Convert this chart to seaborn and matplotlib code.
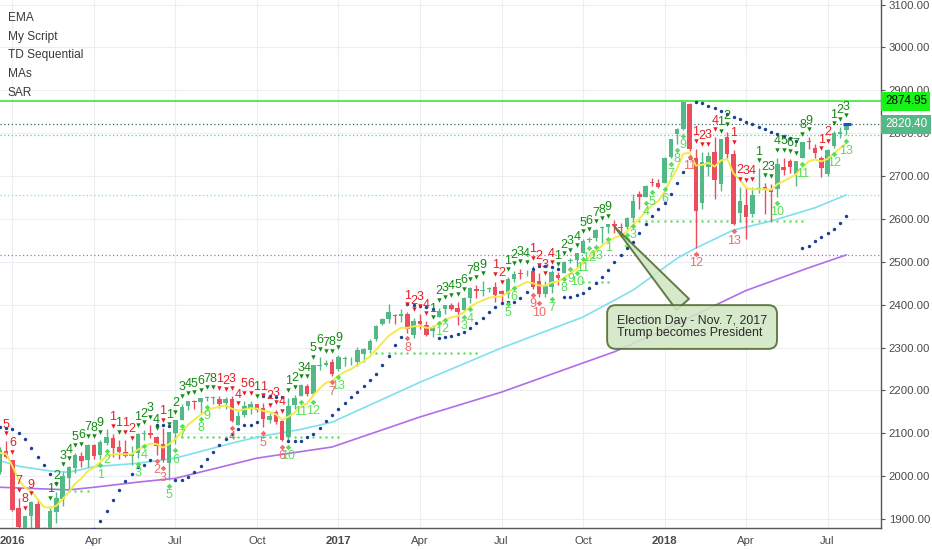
import matplotlib
matplotlib.use("Agg")
import matplotlib.pyplot as plt
import matplotlib.dates as mdates
import matplotlib.transforms as mtrans
import numpy as np
import pandas as pd
import seaborn as sns

# Weekly S&P 500 candles, one per week, first week starting Monday 2015-10-26
first_week = "2015-10-26"
opens = [
    2072, 2080, 2096, 2022, 2089, 2091, 2090, 2013, 2010, 2058,
    2038, 1926, 1878, 1906, 1936, 1873, 1871, 1917, 1947, 1996, 2019, 2047, 2037,
    2073, 2050, 2078, 2089, 2067, 2057, 2046, 2053, 2099, 2100, 2092, 2075, 2030,
    2101, 2131, 2163, 2175, 2174, 2183, 2183, 2181, 2170, 2181, 2120, 2143, 2158,
    2168, 2160, 2132, 2149, 2129, 2092, 2165, 2186, 2211, 2192, 2258, 2260, 2266,
    2251, 2273, 2270, 2267, 2286, 2294, 2321, 2354, 2366, 2375, 2374, 2379, 2329,
    2363, 2352, 2338, 2372, 2390, 2399, 2393, 2387, 2415, 2437, 2432, 2437, 2442,
    2431, 2424, 2459, 2473, 2475, 2478, 2454, 2425, 2440, 2470, 2474, 2502, 2503,
    2521, 2551, 2555, 2578, 2582, 2588, 2580, 2582, 2603, 2657, 2652, 2685, 2684,
    2684, 2745, 2799, 2809, 2867, 2742, 2636, 2722, 2757, 2682, 2791, 2752, 2613,
    2633, 2611, 2670, 2675, 2669, 2670, 2722, 2735, 2705, 2741, 2780, 2766, 2743,
    2705, 2770, 2798, 2807,
]
highs = [
    2094, 2116, 2097, 2097, 2095, 2104, 2090, 2076, 2067, 2081,
    2038, 1950, 1908, 1941, 1947, 1881, 1930, 1962, 2009, 2023, 2053, 2056, 2075,
    2074, 2084, 2111, 2099, 2084, 2084, 2071, 2100, 2107, 2120, 2093, 2113, 2103,
    2131, 2169, 2176, 2177, 2183, 2188, 2188, 2187, 2184, 2187, 2151, 2175, 2175,
    2169, 2170, 2147, 2154, 2134, 2182, 2189, 2214, 2214, 2260, 2278, 2272, 2274,
    2283, 2280, 2277, 2301, 2300, 2320, 2352, 2368, 2401, 2379, 2390, 2382, 2370,
    2378, 2361, 2352, 2392, 2400, 2404, 2406, 2418, 2440, 2446, 2454, 2442, 2453,
    2435, 2464, 2478, 2484, 2480, 2490, 2474, 2454, 2480, 2475, 2501, 2509, 2520,
    2552, 2557, 2576, 2583, 2588, 2598, 2590, 2605, 2657, 2665, 2680, 2695, 2693,
    2744, 2787, 2811, 2873, 2871, 2763, 2755, 2756, 2790, 2787, 2802, 2761, 2675,
    2672, 2674, 2718, 2683, 2682, 2742, 2742, 2739, 2736, 2780, 2790, 2774, 2746,
    2764, 2804, 2814, 2823,
]
lows = [
    2069, 2076, 2022, 2019, 2070, 2042, 2008, 1993, 2005, 2043,
    1918, 1857, 1812, 1872, 1872, 1810, 1871, 1891, 1931, 1969, 2007, 2022, 2022,
    2039, 2039, 2073, 2045, 2039, 2044, 2025, 2043, 2085, 2090, 2050, 2032, 1992,
    2074, 2131, 2154, 2157, 2148, 2175, 2169, 2160, 2157, 2127, 2119, 2139, 2145,
    2149, 2114, 2124, 2122, 2083, 2083, 2156, 2186, 2187, 2188, 2248, 2258, 2233,
    2245, 2258, 2259, 2257, 2267, 2288, 2316, 2352, 2358, 2355, 2359, 2335, 2322,
    2344, 2328, 2324, 2372, 2378, 2387, 2353, 2385, 2403, 2415, 2419, 2430, 2405,
    2407, 2416, 2453, 2459, 2467, 2437, 2417, 2418, 2428, 2446, 2474, 2496, 2488,
    2521, 2545, 2548, 2544, 2567, 2566, 2557, 2576, 2597, 2624, 2651, 2676, 2673,
    2683, 2741, 2775, 2808, 2759, 2533, 2622, 2700, 2647, 2665, 2742, 2585, 2593,
    2553, 2605, 2660, 2612, 2594, 2652, 2703, 2707, 2676, 2741, 2764, 2743, 2698,
    2699, 2766, 2788, 2795,
]
closes = [
    2079.36, 2099.20, 2023.04, 2089.17, 2090.11, 2091.69, 2012.37, 2005.55, 2060.99, 2043.94,
    1922.03, 1880.33, 1906.90, 1940.24, 1880.05, 1864.78, 1917.78, 1948.05, 1999.99, 2022.19,
    2049.58, 2035.94, 2072.78,
    2047.60, 2080.73, 2091.58, 2065.30, 2057.14, 2046.61, 2052.32, 2099.06, 2099.13, 2096.07,
    2071.22, 2037.41, 2102.95,
    2129.90, 2161.74, 2175.03, 2173.60, 2182.87, 2184.05, 2183.87, 2169.04, 2179.98, 2127.81,
    2139.16, 2164.69, 2168.27,
    2153.74, 2132.98, 2141.16, 2126.41, 2085.18, 2164.45, 2181.90, 2213.35, 2191.95, 2259.53,
    2258.07, 2263.79, 2238.83,
    2276.98, 2274.64, 2271.31, 2294.69, 2297.42, 2316.10, 2351.16, 2367.34, 2383.12, 2372.60,
    2378.25, 2343.98, 2362.72,
    2355.54, 2328.95, 2348.69, 2384.20, 2399.29, 2390.90, 2381.73, 2415.82, 2439.07, 2431.77,
    2433.15, 2438.30, 2423.41,
    2425.18, 2459.27, 2472.54, 2472.10, 2476.83, 2441.32, 2425.55, 2443.05, 2476.55, 2461.43,
    2500.23, 2502.22, 2519.36,
    2549.33, 2553.17, 2575.21, 2581.07, 2587.84, 2582.30, 2578.85, 2602.42, 2642.22, 2651.50,
    2675.81, 2683.34, 2673.61,
    2743.15, 2786.24, 2810.30, 2872.87, 2762.13, 2619.55, 2732.22, 2747.30, 2691.25, 2786.57,
    2752.01, 2588.26, 2640.87,
    2604.47, 2656.30, 2670.14, 2669.91, 2663.42, 2727.72, 2712.97, 2721.33, 2734.62, 2779.03,
    2779.66, 2754.88, 2718.37,
    2759.82, 2801.31, 2801.83, 2820.40,
]

# slow moving averages
cyan_weeks = ["2015-12-21", "2016-01-11", "2016-02-15", "2016-03-07", "2016-04-04", "2016-05-23",
              "2016-07-04", "2016-09-05", "2016-10-03", "2016-11-21", "2016-12-26", "2017-04-03",
              "2017-07-03", "2017-10-02", "2017-11-27", "2018-01-15", "2018-02-05", "2018-03-19",
              "2018-04-30", "2018-06-18", "2018-07-23"]
cyan_vals = [2036, 2023, 2012, 2009, 2022, 2030, 2042, 2077, 2091, 2109, 2126, 2219,
             2299, 2371, 2434, 2508, 2532, 2574, 2595, 2626, 2656]
purple_weeks = ["2015-12-21", "2016-03-07", "2016-04-04", "2016-05-23", "2016-07-04", "2016-10-03",
                "2016-12-26", "2017-04-03", "2017-07-03", "2017-10-02", "2017-11-06", "2018-01-01",
                "2018-04-02", "2018-06-11", "2018-07-23"]
purple_vals = [1974, 1968, 1974, 1986, 1995, 2042, 2068, 2138, 2196, 2264, 2290, 2342,
               2433, 2486, 2516]

# TD countdown labels
cd_up_weeks = ["2016-04-11", "2016-04-18", "2016-05-23", "2016-05-30", "2016-06-27", "2016-07-04",
               "2016-07-11", "2016-08-01", "2016-08-08", "2016-11-07", "2016-11-21", "2016-12-05",
               "2017-01-02",
               "2017-04-24", "2017-05-01", "2017-05-22", "2017-05-29", "2017-07-10", "2017-07-17",
               "2017-08-28", "2017-09-11", "2017-09-18", "2017-09-25", "2017-10-02", "2017-10-09",
               "2017-10-16",
               "2017-10-30", "2017-11-20", "2017-11-27", "2017-12-11", "2017-12-18", "2018-01-01",
               "2018-01-08", "2018-01-15", "2018-01-22", "2018-05-07", "2018-06-04", "2018-07-09",
               "2018-07-23"]
cd_up_counts = [1, 2, 3, 4, 5, 6, 7, 8, 9, 10, 11, 12, 13,
                1, 2, 3, 4, 5, 6, 7, 8, 9, 10, 11, 12, 13,
                1, 2, 3, 4, 5, 6, 7, 8, 9, 10, 11, 12, 13]
cd_dn_weeks = ["2016-06-13", "2016-06-20", "2016-09-05", "2016-10-10", "2016-10-31", "2016-12-26",
               "2017-03-20", "2017-08-07", "2017-08-14", "2018-01-29", "2018-02-05", "2018-03-19"]
cd_dn_counts = [2, 3, 4, 5, 6, 7, 8, 9, 10, 11, 12, 13]

# TDST support levels (dotted green)
tdst_levels = [1965, 2091, 2287, 2453, 2594]
tdst_first = ["2016-02-29", "2016-07-04", "2017-02-13", "2017-10-02", "2017-11-20"]
tdst_last = ["2016-03-28", "2017-01-02", "2017-06-05", "2017-10-30", "2018-06-04"]

ath_level = 2874.95
ema_line_level = 2795
legend_items = ["EMA", "My Script", "TD Sequential", "MAs", "SAR"]
note_text = "Election Day - Nov. 7, 2017\nTrump becomes President"
note_week = "2017-11-06"
tick_weeks = ["2016-01-04", "2016-04-04", "2016-07-04", "2016-10-03", "2017-01-02", "2017-04-03",
              "2017-07-03", "2017-10-02", "2018-01-01", "2018-04-02", "2018-07-02"]
tick_labels = ["2016", "Apr", "Jul", "Oct", "2017", "Apr", "Jul", "Oct", "2018", "Apr", "Jul"]

UP, DOWN = "#53b987", "#eb4d5c"
NARROW = ["Liberation Sans Narrow", "Liberation Sans", "DejaVu Sans"]


def parabolic_sar(high, low, start_sar, start_af, step=0.02, cap=0.2):
    sar = np.zeros(len(high))
    sar[0] = start_sar
    rising, af, ep = True, start_af, high[0]
    for i in range(1, len(high)):
        s = sar[i - 1] + af * (ep - sar[i - 1])
        if rising:
            s = min(s, low[i - 1], low[max(i - 2, 0)])
            if low[i] < s:
                rising, s, ep, af = False, ep, low[i], step
            elif high[i] > ep:
                ep, af = high[i], min(af + step, cap)
        else:
            s = max(s, high[i - 1], high[max(i - 2, 0)])
            if high[i] > s:
                rising, s, ep, af = True, ep, high[i], step
            elif low[i] < ep:
                ep, af = low[i], min(af + step, cap)
        sar[i] = s
    return sar


def td_setups(c):
    up = dn = 0
    out = []
    for i in range(4, len(c)):
        if c[i] > c[i - 4]:
            up, dn = up + 1, 0
        elif c[i] < c[i - 4]:
            up, dn = 0, dn + 1
        else:
            up = dn = 0
        if 1 <= up <= 9:
            out.append((i, up, 1))
        if 1 <= dn <= 9:
            out.append((i, dn, -1))
    return out


df = pd.DataFrame({"open": opens, "high": highs, "low": lows, "close": closes})
df["week"] = pd.date_range(first_week, periods=len(df), freq="7D")
df["x"] = mdates.date2num(df["week"])
df["ema"] = df["close"].ewm(span=8, adjust=False).mean()
df["sar"] = parabolic_sar(df["high"].values, df["low"].values, 1940, 0.04)
xpos = dict(zip(df["week"].dt.strftime("%Y-%m-%d"), range(len(df))))

cyan = pd.DataFrame({"x": mdates.date2num(pd.to_datetime(cyan_weeks)), "y": cyan_vals})
purple = pd.DataFrame({"x": mdates.date2num(pd.to_datetime(purple_weeks)), "y": purple_vals})

sns.set_theme(style="white")
plt.rcParams["font.family"] = ["Liberation Sans", "DejaVu Sans"]

fig = plt.figure(figsize=(9.32, 5.5), dpi=100)
ax = fig.add_axes([0, 22 / 550, 881 / 932, 528 / 550])

x_left = mdates.date2num(pd.Timestamp("2016-01-04")) - 13.9
x_right = x_left + 881 / 6.27 * 7
ax.set_xlim(x_left, x_right)
ax.set_ylim(1879, 3110.6)

# full-width price lines
ax.axhline(ath_level, color="#2fe02f", lw=1.1, zorder=1.5)
ax.axhline(closes[-1], color="#2f6b5c", lw=0.9, ls=(0, (1, 2)), zorder=1.5)
ax.axhline(ema_line_level, color="#55dd55", lw=0.9, ls=(0, (1, 2)), zorder=1.5)
ax.axhline(cyan_vals[-1], color="#6fe3f0", lw=0.9, ls=(0, (1, 2)), zorder=1.5)
ax.axhline(purple_vals[-1], color="#b05ce8", lw=0.9, ls=(0, (1, 2)), zorder=1.5)

# TDST dotted supports
for lvl, a, b in zip(tdst_levels, tdst_first, tdst_last):
    seg = df.iloc[xpos[a]:xpos[b] + 1]
    ax.plot(seg["x"], [lvl] * len(seg), ls="none", marker="o", ms=1.8, mew=0,
            color="#66e066", zorder=1.8)

# slow MAs
sns.lineplot(data=purple, x="x", y="y", ax=ax, color="#b06ee8", lw=1.2, zorder=2)
sns.lineplot(data=cyan, x="x", y="y", ax=ax, color="#7fe0ef", lw=1.2, zorder=2)

# candles
colors = np.where(df["close"] >= df["open"], UP, DOWN)
ax.vlines(df["x"], df["low"], df["high"], colors=colors, lw=1, zorder=3)
body_lo = np.minimum(df["open"], df["close"])
body_h = np.maximum(np.abs(df["close"] - df["open"]), 1.5)
ax.bar(df["x"], body_h, bottom=body_lo, width=5.0, color=colors, linewidth=0, zorder=3.1)

# fast EMA
sns.lineplot(data=df, x="x", y="ema", ax=ax, color="#f4ea4c", lw=1.4, zorder=3.5)

# parabolic SAR
sns.scatterplot(data=df, x="x", y="sar", ax=ax, color="#1c3f94", s=6, marker="o",
                linewidth=0, zorder=4)

# TD setup counts above bars
above_mark = mtrans.offset_copy(ax.transData, fig=fig, x=0, y=5.8, units="points")
below_mark = mtrans.offset_copy(ax.transData, fig=fig, x=0, y=-4.3, units="points")
vis = (df["x"] > x_left + 2) & (df["x"] < x_right)
for i, n, d in td_setups(df["close"].values):
    if not vis.iloc[i]:
        continue
    col = "#138a13" if d == 1 else "#e81c24"
    xi, hi = df["x"].iloc[i], df["high"].iloc[i]
    ax.plot([xi], [hi], ls="none", marker="v", ms=3.2, mew=0, color=col,
            transform=above_mark, zorder=5)
    ax.annotate(str(n), (xi, hi), xytext=(0, 12.0), textcoords="offset points",
                ha="center", va="center", fontsize=9, color=col, family=NARROW, zorder=5)

# TD countdown counts below bars
for weeks, counts, col in ((cd_up_weeks, cd_up_counts, "#55e055"),
                           (cd_dn_weeks, cd_dn_counts, "#f06a6a")):
    for w, n in zip(weeks, counts):
        i = xpos[w]
        xi, lo = df["x"].iloc[i], df["low"].iloc[i]
        ax.plot([xi], [lo], ls="none", marker="D", ms=2.8, mew=0, color=col,
                transform=below_mark, zorder=5)
        ax.annotate(str(n), (xi, lo), xytext=(0, -11), textcoords="offset points",
                    ha="center", va="center", fontsize=9, color=col, family=NARROW, zorder=5)

# last-bar marker
xl = df["x"].iloc[-1]
ax.hlines(closes[-1], xl - 3.5, xl + 5, color="#2447dd", lw=2.2, zorder=5.5)

# callout
ni = xpos[note_week]
ax.annotate(note_text, xy=(df["x"].iloc[ni], df["close"].iloc[ni]), xycoords="data",
            xytext=(617 / 881, 1 - 327 / 528), textcoords="axes fraction",
            ha="left", va="center", fontsize=8.9, color="#2a2a2a", linespacing=1.0,
            bbox=dict(boxstyle="round,pad=0.8,rounding_size=0.7", fc="#d2e6c4",
                      ec="#4f6b2f", lw=1.4, alpha=0.88),
            arrowprops=dict(arrowstyle="wedge,tail_width=1.35,shrink_factor=0.5",
                            fc="#d2e6c4", ec="#4f6b2f", lw=1.4, alpha=0.88,
                            relpos=(0.5, 1.0), shrinkA=0, shrinkB=0),
            zorder=8)

# indicator names top-left
for k, name in enumerate(legend_items):
    ax.text(8 / 881, 1 - (18 + 18.7 * k) / 528, name, transform=ax.transAxes,
            ha="left", va="center", fontsize=8.6, color="#3a3a3a", family=NARROW, zorder=9)

# axes styling
ax.set_xlabel("")
ax.set_ylabel("")
ax.set_xticks(mdates.date2num(pd.to_datetime(tick_weeks)))
ax.set_xticklabels(tick_labels)
for lab in ax.get_xticklabels():
    if lab.get_text().isdigit():
        lab.set_fontweight("bold")
ax.yaxis.tick_right()
ax.set_yticks(np.arange(1900, 3101, 100))
ax.yaxis.set_major_formatter(matplotlib.ticker.FormatStrFormatter("%.2f"))
ax.tick_params(axis="y", length=3, width=0.8, color="#555555", pad=2.5,
               labelsize=8.2, labelcolor="#4a4a4a")
ax.tick_params(axis="x", length=3, width=0.8, color="#555555", pad=3,
               labelsize=8.2, labelcolor="#4a4a4a")
ax.grid(True, color="#eceef2", lw=0.8)
ax.set_axisbelow(True)
for side in ("top", "left"):
    ax.spines[side].set_visible(False)
for side in ("right", "bottom"):
    ax.spines[side].set_color("#555555")
    ax.spines[side].set_linewidth(1)

# price tags on the scale
yt = mtrans.blended_transform_factory(ax.transAxes, ax.transData)
ax.text(1.0045, ath_level, "%.2f" % ath_level, transform=yt, ha="left", va="center",
        fontsize=8.4, color="black", clip_on=False, zorder=10,
        bbox=dict(boxstyle="square,pad=0.3", fc="#19f219", ec="none"))
ax.text(1.0045, closes[-1], "%.2f" % closes[-1], transform=yt, ha="left", va="center",
        fontsize=8.4, color="white", clip_on=False, zorder=10,
        bbox=dict(boxstyle="square,pad=0.3", fc="#53b987", ec="none"))

fig.savefig("out.png", dpi=100)
